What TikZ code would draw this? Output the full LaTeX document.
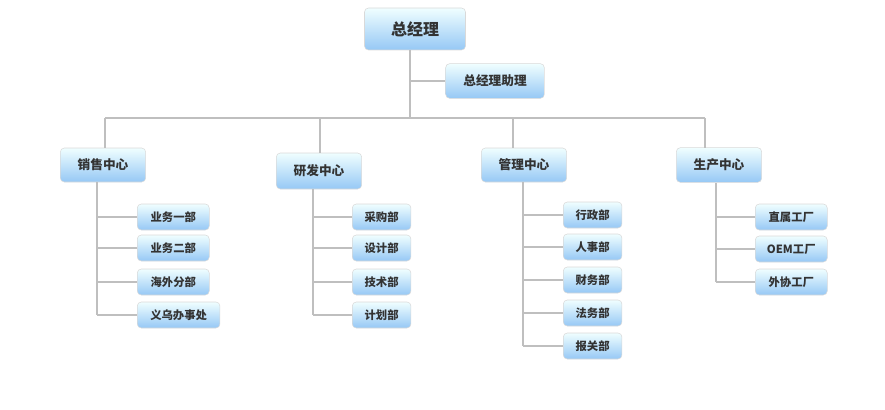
\documentclass[tikz,border=0pt]{standalone}
\usepackage{fontspec}
\setmainfont{Noto Sans CJK SC}
\begin{document}
\begin{tikzpicture}[x=0.75pt,y=-0.75pt,
 box/.style={draw=black!15,rounded corners=3pt,top color=blue!4!cyan!6!white,bottom color={rgb,255:red,150;green,200;blue,245},font=\bfseries\fontsize{9.5}{11}\selectfont,text=black!80,inner sep=0pt},
 ln/.style={draw=black!25,line width=0.8pt}]
\useasboundingbox (0,0) rectangle (885,410);
\node[box,minimum width=75.75pt,minimum height=31.5pt,font=\bfseries\fontsize{12}{14}\selectfont] (gm) at (415,29) {总经理};
\node[box,minimum width=74pt,minimum height=26pt] (as) at (495,81) {总经理助理};
\coordinate (t) at (410,118);
\draw[ln] (410,50) -- (t);
\draw[ln] (410,81) -- (as.west);
\draw[ln] (105,118) -- (705,118);
\node[box,minimum width=64pt,minimum height=25.5pt] (s) at (103,165) {销售中心};
\node[box,minimum width=64pt,minimum height=27pt] (r) at (319,171) {研发中心};
\node[box,minimum width=64pt,minimum height=25.5pt] (m) at (524,165) {管理中心};
\node[box,minimum width=64pt,minimum height=26pt] (p) at (719,165) {生产中心};
\draw[ln] (105,118) -- (105,148);
\draw[ln] (320,118) -- (320,153);
\draw[ln] (513,118) -- (513,148);
\draw[ln] (705,118) -- (705,148);
\tikzset{ch/.style={box,anchor=west,minimum height=19.5pt,minimum width=#1,font=\bfseries\fontsize{8.5}{10}\selectfont}}
% sales
\draw[ln] (97,182) -- (97,315);
\foreach \y/\t/\n/\w in {217/业务一部/s1/54pt,248/业务二部/s2/54pt,282/海外分部/s3/54pt,315/义乌办事处/s4/62pt}{
 \node[ch=\w] (\n) at (137,\y) {\t}; \draw[ln] (97,\y) -- (\n.west);}
% rd
\draw[ln] (313,189) -- (313,315);
\foreach \y/\t/\n in {217/采购部/r1,248/设计部/r2,282/技术部/r3,315/计划部/r4}{
 \node[ch=44pt] (\n) at (352,\y) {\t}; \draw[ln] (313,\y) -- (\n.west);}
% mgmt
\draw[ln] (523,182) -- (523,346);
\foreach \y/\t/\n in {215/行政部/m1,247/人事部/m2,280/财务部/m3,313/法务部/m4,346/报关部/m5}{
 \node[ch=44pt] (\n) at (563,\y) {\t}; \draw[ln] (523,\y) -- (\n.west);}
% prod
\draw[ln] (716,183) -- (716,282);
\foreach \y/\t/\n in {217/直属工厂/p1,249/OEM工厂/p2,282/外协工厂/p3}{
 \node[ch=54pt] (\n) at (755,\y) {\t}; \draw[ln] (716,\y) -- (\n.west);}
\end{tikzpicture}
\end{document}
